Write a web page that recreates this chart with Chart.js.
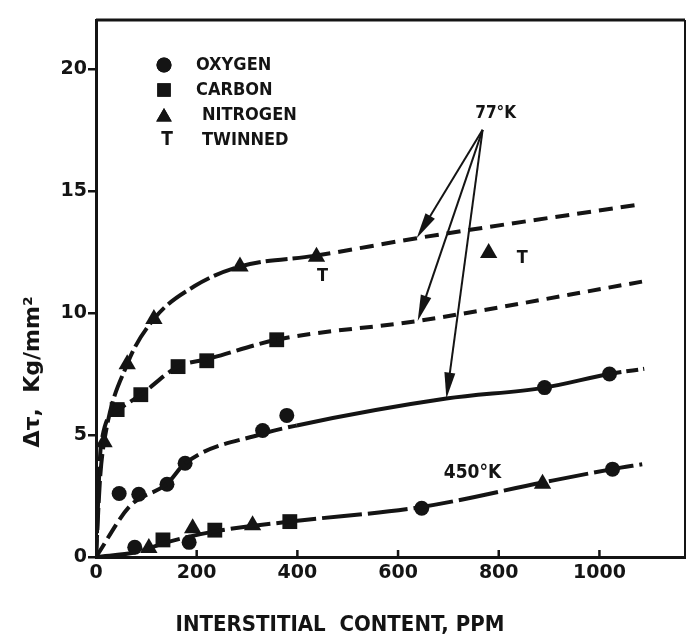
<!DOCTYPE html>
<html>
<head>
<meta charset="utf-8">
<script src="https://cdn.jsdelivr.net/npm/chart.js@4.4.0/dist/chart.umd.min.js"></script>
<style>
  html, body { margin: 0; padding: 0; background: #fff; overflow: hidden; }
  canvas { display: block; }
</style>
</head>
<body>
<canvas id="chart" width="689" height="642"></canvas>
<script>
// Axis ticks
const xTicks = [0, 200, 400, 600, 800, 1000];
const yTicks = [0, 5, 10, 15, 20];

// 77 K measured points
const oxygen77 = [[46, 2.6], [85, 2.57], [141, 2.98], [177, 3.84], [331, 5.18], [379, 5.8], [891, 6.94], [1020, 7.5]];
const carbon77 = [[42, 6.04], [89, 6.65], [163, 7.8], [220, 8.04], [359, 8.9]];
const nitrogen77 = [[16, 4.7], [62, 7.9], [115, 9.75], [286, 11.9], [438, 12.3], [780, 12.45]];

// 450 K measured points
const oxygen450 = [[77, 0.4], [185, 0.6], [647, 2.0], [1026, 3.6]];
const carbon450 = [[133, 0.7], [236, 1.1], [385, 1.45]];
const nitrogen450 = [[105, 0.37], [192, 1.18], [311, 1.3], [887, 3.0]];

// Hand-drawn curves through the points
const nitrogenCurve = [[0, 0], [8, 3.2], [16, 4.7], [62, 7.9], [115, 9.75], [196, 11.1], [286, 11.9], [438, 12.35], [637, 13.06], [1081, 14.45]];
const carbonCurve = [[0, 0], [10, 4.6], [42, 6.0], [89, 6.65], [163, 7.8], [220, 8.1], [359, 8.9], [639, 9.67], [1090, 11.3]];
const oxygenCurve = [[0, 0], [68, 2.1], [141, 3.0], [177, 3.84], [331, 5.05], [399, 5.39], [696, 6.49], [891, 6.94], [1020, 7.5], [1089, 7.71]];
const curve450 = [[0, 0], [80, 0.2], [140, 0.6], [236, 1.05], [385, 1.45], [647, 2.05], [887, 3.05], [1026, 3.6], [1085, 3.8]];

// Annotations
const arrowFrom = [768, 17.5];
const arrowTips = [[637, 13.06], [639, 9.67], [696, 6.49]];
const label77 = [794, 18.16];
const label450 = [748, 3.43];
const twinLabels = [[450, 11.5], [847, 12.25]];

const INK = '#141414';
const NARROW = '"DejaVu Sans Condensed", "Liberation Sans Narrow", sans-serif';

function pts(arr) {
    return arr.map(function(p) { return { x: p[0], y: p[1] }; });
}

function curve(data, dashFn) {
    return {
        data: pts(data),
        showLine: true,
        borderColor: INK,
        borderWidth: 4,
        pointRadius: 0,
        cubicInterpolationMode: 'monotone',
        borderCapStyle: 'butt',
        segment: { borderDash: dashFn }
    };
}

function markers(data, style, radius) {
    return {
        data: pts(data),
        showLine: false,
        pointStyle: style,
        pointRadius: radius,
        pointHoverRadius: radius,
        backgroundColor: INK,
        borderColor: INK,
        borderWidth: 0
    };
}

function drawArrow(ctx, x0, y0, x1, y1) {
    const ang = Math.atan2(y1 - y0, x1 - x0);
    const len = 26, half = 5.5;
    ctx.beginPath();
    ctx.moveTo(x0, y0);
    ctx.lineTo(x1 - Math.cos(ang) * (len - 4), y1 - Math.sin(ang) * (len - 4));
    ctx.stroke();
    ctx.beginPath();
    ctx.moveTo(x1, y1);
    ctx.lineTo(x1 - Math.cos(ang) * len - Math.sin(ang) * half, y1 - Math.sin(ang) * len + Math.cos(ang) * half);
    ctx.lineTo(x1 - Math.cos(ang) * len + Math.sin(ang) * half, y1 - Math.sin(ang) * len - Math.cos(ang) * half);
    ctx.closePath();
    ctx.fill();
}

// Frame, inner ticks, arrows, labels, legend and axis titles
const decorations = {
    id: 'decorations',
    afterDraw: function(chart) {
        const ctx = chart.ctx;
        const area = chart.chartArea;
        const xs = chart.scales.x, ys = chart.scales.y;
        ctx.save();
        ctx.strokeStyle = INK;
        ctx.fillStyle = INK;

        // top and right frame
        ctx.lineWidth = 3;
        ctx.beginPath();
        ctx.moveTo(area.left, area.top);
        ctx.lineTo(area.right, area.top);
        ctx.stroke();
        ctx.lineWidth = 2;
        ctx.beginPath();
        ctx.moveTo(area.right, area.top);
        ctx.lineTo(area.right, area.bottom);
        ctx.stroke();

        // x ticks pointing inward
        ctx.lineWidth = 2.5;
        xTicks.forEach(function(v) {
            if (v === 0) return;
            const px = xs.getPixelForValue(v);
            ctx.beginPath();
            ctx.moveTo(px, area.bottom);
            ctx.lineTo(px, area.bottom - 7);
            ctx.stroke();
        });

        // arrows from the 77 K label
        ctx.lineWidth = 2;
        const ox = xs.getPixelForValue(arrowFrom[0]), oy = ys.getPixelForValue(arrowFrom[1]);
        arrowTips.forEach(function(t) {
            drawArrow(ctx, ox, oy, xs.getPixelForValue(t[0]), ys.getPixelForValue(t[1]));
        });

        ctx.textAlign = 'center';
        ctx.textBaseline = 'middle';
        ctx.font = 'bold 17px ' + NARROW;
        ctx.fillText('77°K', xs.getPixelForValue(label77[0]), ys.getPixelForValue(label77[1]));
        ctx.font = 'bold 19px ' + NARROW;
        ctx.fillText('450°K', xs.getPixelForValue(label450[0]), ys.getPixelForValue(label450[1]));
        ctx.font = 'bold 18px ' + NARROW;
        twinLabels.forEach(function(t) {
            ctx.fillText('T', xs.getPixelForValue(t[0]), ys.getPixelForValue(t[1]));
        });

        // legend
        const legendRows = [
            { style: 'circle', r: 7.5, text: 'OXYGEN' },
            { style: 'rect', r: 9.5, text: 'CARBON' },
            { style: 'triangle', r: 9, text: 'NITROGEN' },
            { style: null, r: 0, text: 'TWINNED' }
        ];
        ctx.textAlign = 'left';
        legendRows.forEach(function(row, i) {
            const y = 65 + i * 25;
            if (row.style) {
                Chart.helpers.drawPoint(ctx, { pointStyle: row.style, radius: row.r, rotation: 0, borderWidth: 0 }, 164, y + (row.style === 'triangle' ? 2 : 0));
                ctx.fill();
            } else {
                ctx.font = 'bold 19px ' + NARROW;
                ctx.textAlign = 'center';
                ctx.fillText('T', 167, y);
                ctx.textAlign = 'left';
            }
            ctx.font = 'bold 18px ' + NARROW;
            ctx.fillText(row.text, 196 + (i > 1 ? 6 : 0), y);
        });

        // axis titles
        ctx.font = 'bold 22px ' + NARROW;
        ctx.textAlign = 'center';
        ctx.fillText('INTERSTITIAL  CONTENT, PPM', 340, 625);
        ctx.translate(33, 372);
        ctx.rotate(-Math.PI / 2);
        ctx.font = 'bold 22px "DejaVu Sans", sans-serif';
        ctx.fillText('Δτ,  Kg/mm²', 0, 0);
        ctx.restore();
    }
};

const tickFont = { family: '"DejaVu Sans", sans-serif', size: 19, weight: 'bold' };

new Chart(document.getElementById('chart'), {
    type: 'scatter',
    data: {
        datasets: [
            curve(nitrogenCurve, function(c) { return c.p0.parsed.x < 430 ? [22, 5] : [14, 8]; }),
            curve(carbonCurve, function(c) { return c.p0.parsed.x < 350 ? [18, 6] : [13, 8]; }),
            curve(oxygenCurve, function(c) {
                const x = c.p0.parsed.x;
                if (x < 390) return [16, 6];
                if (x >= 1020) return [12, 5];
                return [];
            }),
            curve(curve450, function(c) { return [40, 6]; }),
            markers(oxygen77, 'circle', 7.5),
            markers(carbon77, 'rect', 10.5),
            markers(nitrogen77, 'triangle', 10),
            markers(oxygen450, 'circle', 7.5),
            markers(carbon450, 'rect', 10.5),
            markers(nitrogen450, 'triangle', 10)
        ]
    },
    options: {
        responsive: false,
        animation: false,
        events: [],
        layout: { autoPadding: false, padding: { top: 20, right: 4, left: 0, bottom: 0 } },
        plugins: { legend: { display: false }, tooltip: { enabled: false } },
        scales: {
            x: {
                type: 'linear',
                min: 0,
                max: 1170,
                afterBuildTicks: function(scale) { scale.ticks = xTicks.map(function(v) { return { value: v }; }); },
                afterFit: function(scale) {
                    scale.height = 85;
                    scale.paddingLeft = 0;
                    scale.paddingRight = 0;
                },
                grid: { display: false, drawTicks: false },
                border: { display: true, width: 3, color: INK },
                ticks: { color: INK, font: tickFont, padding: 5, maxRotation: 0, callback: function(v) { return String(v); } }
            },
            y: {
                type: 'linear',
                min: 0,
                max: 22,
                afterBuildTicks: function(scale) { scale.ticks = yTicks.map(function(v) { return { value: v }; }); },
                afterFit: function(scale) {
                    scale.width = 96;
                    scale.paddingTop = 0;
                    scale.paddingBottom = 0;
                },
                grid: { drawOnChartArea: false, drawTicks: true, tickLength: 8, lineWidth: 2.5, color: INK },
                border: { display: true, width: 3, color: INK },
                ticks: { color: INK, font: tickFont, padding: 1 }
            }
        }
    },
    plugins: [decorations]
});
</script>
</body>
</html>
